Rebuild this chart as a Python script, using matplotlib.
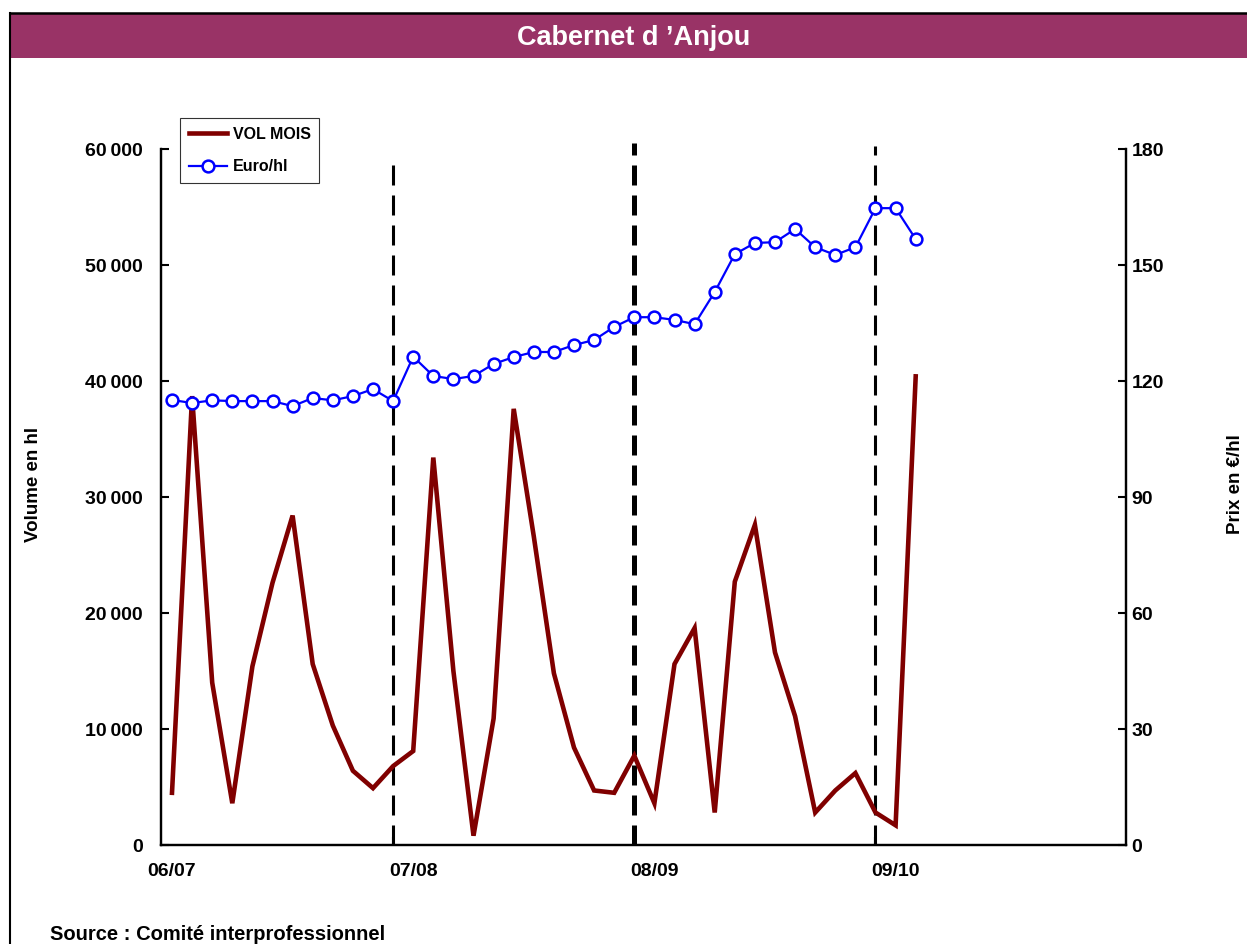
import matplotlib
matplotlib.use("Agg")
import matplotlib.pyplot as plt
from matplotlib.patches import Rectangle
from matplotlib.lines import Line2D
from matplotlib.ticker import FuncFormatter

plt.rcParams['font.family'] = ['Liberation Sans', 'DejaVu Sans']
plt.rcParams['font.weight'] = 'bold'

# ---- data ----
vol_mois = [4500, 38700, 14000, 3600, 15400, 22600, 28400, 15600, 10300, 6400,
            4900, 6800, 8100, 33400, 15000, 800, 10900, 37600, 26600, 14800,
            8400, 4700, 4500, 7700, 3600, 15600, 18700, 2800, 22700, 27600,
            16600, 11100, 2800, 4700, 6200, 2800, 1700, 40400]
euro_hl = [115.1, 114.3, 115.0, 114.8, 114.8, 114.8, 113.5, 115.6, 115.0, 116.1,
           117.9, 114.8, 126.3, 121.3, 120.5, 121.3, 124.4, 126.2, 127.5, 127.5,
           129.3, 130.6, 134.0, 136.5, 136.5, 135.8, 134.7, 143.0, 152.8, 155.7,
           155.9, 159.3, 154.6, 152.6, 154.6, 164.7, 164.7, 156.7]
season_labels = ["06/07", "07/08", "08/09", "09/10"]
season_label_idx = [0, 12, 24, 36]
season_break_idx = [11, 23, 35]
season_break_top = [59000, 60500, 60300]
season_break_lw = [2.2, 3.6, 2.2]

W, H = 1247, 944
fig = plt.figure(figsize=(W / 100, H / 100), dpi=100)

# frame and title bar
fig.add_artist(Line2D([10 / W, 10 / W], [0, 1 - 13 / H], transform=fig.transFigure,
                      color='black', lw=1.5))
fig.add_artist(Line2D([10 / W, 1], [1 - 13 / H, 1 - 13 / H], transform=fig.transFigure,
                      color='black', lw=1.8))
fig.add_artist(Rectangle((10.5 / W, 1 - 58 / H), 1 - 10.5 / W, 44 / H,
                         transform=fig.transFigure, facecolor='#993366',
                         edgecolor='none'))
fig.text(634 / W, 1 - 38 / H, "Cabernet d \u2019Anjou", color='white',
         fontsize=19.5, fontweight='bold', ha='center', va='center')

x0, x1 = 161, 1126
yb, yt = 845, 149
ax = fig.add_axes([x0 / W, 1 - yb / H, (x1 - x0) / W, (yb - yt) / H])
ax2 = ax.twinx()

sp = 20.1
xs = list(range(len(vol_mois)))
ax.set_xlim((x0 - 172) / sp, (x1 - 172) / sp)
ax.set_ylim(0, 60000)
ax2.set_ylim(0, 180)

l1, = ax.plot(xs, vol_mois, color='#800000', lw=3.3, solid_joinstyle='miter',
              zorder=3, label='VOL MOIS')
l2, = ax2.plot(xs, euro_hl, color='#0000FF', lw=1.6, marker='o', markersize=8.5,
               markerfacecolor='white', markeredgecolor='#0000FF',
               markeredgewidth=1.8, label='Euro/hl', zorder=4)

for xi, top, lw in zip(season_break_idx, season_break_top, season_break_lw):
    ax.plot([xi, xi], [0, top], color='black', lw=lw,
            linestyle=(0, (14.4 / lw, 7.2 / lw)), clip_on=False, zorder=2)

# ticks
ax.set_xticks(season_label_idx)
ax.set_xticklabels(season_labels)
ax.set_xticks(season_break_idx, minor=True)
ax.tick_params(axis='x', which='major', length=0, pad=13, labelsize=14)
ax.tick_params(axis='x', which='minor', direction='in', length=6, width=1.5)
ax.set_yticks(range(0, 60001, 10000))
ax.yaxis.set_major_formatter(FuncFormatter(
    lambda v, p: "0" if v == 0 else f"{int(v):,}".replace(",", "\u2009")))
ax.tick_params(axis='y', direction='in', length=6, width=1.5, pad=13, labelsize=14)
ax2.set_yticks(range(0, 181, 30))
ax2.tick_params(axis='y', direction='in', length=6, width=1.5, pad=4, labelsize=14)

for a in (ax, ax2):
    for s in a.spines.values():
        s.set_linewidth(1.6)
    a.spines['top'].set_visible(False)
ax.set_facecolor('none')
for lab in ax.get_xticklabels() + ax.get_yticklabels() + ax2.get_yticklabels():
    lab.set_fontweight('bold')

fig.text(33 / W, 1 - 484 / H, "Volume en hl", rotation=90, fontsize=13.5,
         fontweight='bold', ha='center', va='center')
fig.text(1236 / W, 1 - 484 / H, "Prix en \u20ac/hl", rotation=90, fontsize=13.5,
         fontweight='bold', ha='center', va='center')
fig.text(50 / W, 1 - 935 / H, "Source : Comité interprofessionnel", fontsize=14.5,
         fontweight='bold', ha='left', va='center')

leg = fig.legend(handles=[l1, l2], loc='upper left',
                 bbox_to_anchor=(180 / W, 1 - 118 / H),
                 bbox_transform=fig.transFigure, borderaxespad=0,
                 fontsize=11.5, frameon=True, fancybox=False, handlelength=2.4,
                 handletextpad=0.35, borderpad=0.55, labelspacing=1.1)
leg.get_frame().set_edgecolor('black')
leg.get_frame().set_linewidth(0.8)
for t in leg.get_texts():
    t.set_fontweight('bold')

fig.savefig("out.png", dpi=100)
